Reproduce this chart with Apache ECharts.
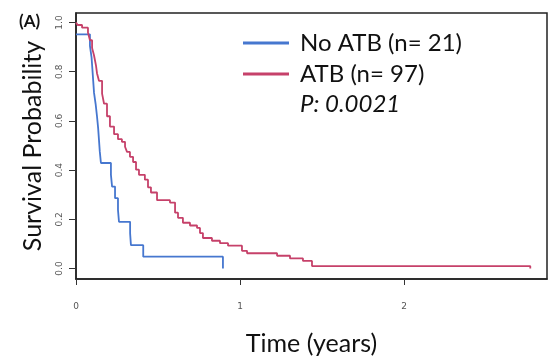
<!DOCTYPE html>
<html>
<head>
<meta charset="utf-8">
<style>
  html, body { margin: 0; padding: 0; background: #fff; }
  #chart { width: 552px; height: 361px; }
</style>
<script src="https://cdn.jsdelivr.net/npm/echarts@6/dist/echarts.min.js"></script>
</head>
<body>
<div id="chart"></div>
<script>
// 图例名称.
const seriesNames = ['No ATB (n= 21)', 'ATB (n= 97)']

// No ATB 组 (蓝).
const blueTimes = [0, 0.085, 0.095, 0.1, 0.105, 0.11, 0.12, 0.128, 0.135, 0.14, 0.145, 0.152, 0.213, 0.22, 0.238, 0.256, 0.262, 0.33, 0.335, 0.41, 0.896]
const blueSurv = [0.952, 0.905, 0.857, 0.81, 0.762, 0.714, 0.667, 0.619, 0.571, 0.524, 0.476, 0.429, 0.381, 0.333, 0.286, 0.238, 0.19, 0.143, 0.095, 0.048, 0]

// ATB 组 (红).
const redTimes = [0, 0.01, 0.037, 0.073, 0.085, 0.098, 0.11, 0.122, 0.128, 0.14, 0.159, 0.171, 0.189, 0.207, 0.232, 0.256, 0.28, 0.299, 0.311, 0.329, 0.348, 0.366, 0.384, 0.42, 0.439, 0.457, 0.494, 0.573, 0.604, 0.622, 0.652, 0.695, 0.738, 0.756, 0.774, 0.829, 0.878, 0.927, 1.012, 1.043, 1.226, 1.305, 1.384, 1.439, 2.77]
const redSurv = [1.0, 0.99, 0.979, 0.959, 0.928, 0.897, 0.866, 0.825, 0.794, 0.763, 0.711, 0.67, 0.619, 0.577, 0.546, 0.526, 0.515, 0.495, 0.474, 0.454, 0.433, 0.402, 0.381, 0.361, 0.33, 0.309, 0.278, 0.268, 0.227, 0.206, 0.186, 0.175, 0.165, 0.144, 0.124, 0.113, 0.103, 0.093, 0.072, 0.062, 0.052, 0.041, 0.031, 0.01, 0]

// 刻度.
const xTicks = [0, 1, 2]
const yTicks = [0, 0.2, 0.4, 0.6, 0.8, 1.0]

const colors = ['#4677cf', '#c6416a']
const font = 'Lato, "Open Sans", sans-serif'

const toPairs = (xs, ys) => xs.map((x, i) => [x, ys[i]])

const chart = echarts.init(document.getElementById('chart'), null, { renderer: 'canvas' })

chart.setOption({
  animation: false,
  color: colors,
  grid: {
    left: 76,
    right: 5,
    top: 13,
    bottom: 69,
    show: true,
    borderColor: '#222',
    borderWidth: 1.5,
  },
  legend: {
    orient: 'vertical',
    left: 238,
    top: 26,
    itemWidth: 46,
    itemHeight: 3,
    itemGap: 7,
    icon: 'rect',
    textStyle: {
      fontFamily: font,
      fontSize: 24,
      color: '#111',
      padding: [0, 0, 0, 6],
    },
    data: seriesNames,
  },
  xAxis: {
    type: 'value',
    min: 0,
    max: 2.872,
    name: 'Time (years)',
    nameLocation: 'middle',
    nameGap: 52,
    nameTextStyle: { fontFamily: font, fontSize: 25, color: '#111' },
    splitLine: { show: false },
    axisLine: { show: true, onZero: false, lineStyle: { color: '#222', width: 1.5 } },
    axisTick: { show: true, length: 6, lineStyle: { color: '#333' }, customValues: xTicks },
    axisLabel: {
      fontFamily: 'DejaVu Sans, sans-serif',
      fontSize: 9,
      color: '#555',
      margin: 23,
      customValues: xTicks,
    },
  },
  yAxis: {
    type: 'value',
    min: -0.0426,
    max: 1.0388,
    name: 'Survival Probability',
    nameLocation: 'middle',
    nameGap: 31,
    nameTextStyle: { fontFamily: font, fontSize: 25, color: '#111' },
    splitLine: { show: false },
    axisLine: { show: true, onZero: false, lineStyle: { color: '#222', width: 1.5 } },
    axisTick: { show: true, length: 7, lineStyle: { color: '#333' }, customValues: yTicks },
    axisLabel: {
      fontFamily: 'DejaVu Sans, sans-serif',
      fontSize: 9,
      color: '#555',
      rotate: 90,
      margin: 12,
      customValues: yTicks,
      formatter: (v) => v.toFixed(1),
    },
  },
  series: [
    {
      name: seriesNames[0],
      type: 'line',
      step: 'end',
      symbol: 'none',
      lineStyle: { width: 1.8, color: colors[0] },
      data: toPairs(blueTimes, blueSurv),
    },
    {
      name: seriesNames[1],
      type: 'line',
      step: 'end',
      symbol: 'none',
      lineStyle: { width: 1.8, color: colors[1] },
      data: toPairs(redTimes, redSurv),
    },
  ],
  graphic: [
    {
      type: 'text',
      left: 19,
      top: 13,
      style: { text: '(A)', font: 'bold 17px ' + font, fill: '#111' },
    },
    {
      type: 'text',
      left: 300,
      top: 92,
      style: { text: 'P: 0.0021', font: 'italic 24px ' + font, fill: '#111' },
    },
  ],
})
</script>
</body>
</html>
